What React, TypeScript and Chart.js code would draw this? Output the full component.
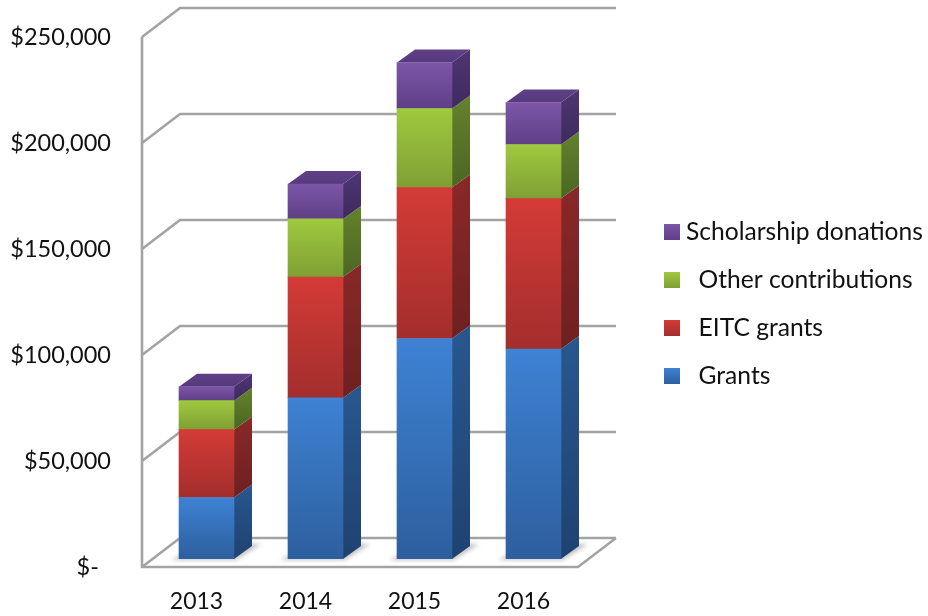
import React, { useEffect, useRef } from "react";
import { Chart, registerables } from "chart.js";

Chart.register(...registerables);

const years = ["2013", "2014", "2015", "2016"];
const grants = [29000, 76000, 104000, 99000];
const eitcGrants = [32000, 57000, 71200, 71000];
const otherContributions = [13700, 27400, 37300, 25500];
const scholarshipDonations = [6600, 16500, 21700, 19800];

const FONT = "Lato, Carlito, Calibri, sans-serif";
const TICK_SIZE = 23.5;
const LEGEND_SIZE = 24.6;
const TEXT = "#111111";
const GRID = "#a3a3a3";

// back wall offset, bar depth, bar placement on the floor
const WALL = { dx: 38, dy: 29 };
const DEPTH = { dx: 18, dy: 13 };
const BAR_SHIFT = { dx: 10, dy: 8 };

const palette = [
  { front: ["#3e82d4", "#2d5f9e"], side: ["#28578f", "#1f4270"] },
  { front: ["#d43b37", "#a32e2c"], side: ["#8a2828", "#6e2020"] },
  { front: ["#9fc93f", "#7f9f34"], side: ["#64822e", "#4b6622"] },
  { front: ["#7d56a8", "#5f3f85"], side: ["#4f3674", "#3e2a5e"] },
];
const topFace = ["#5f4088", "#553a7c"];

const seriesNames = ["Grants", "EITC grants", "Other contributions", "Scholarship donations"];
const seriesValues = [grants, eitcGrants, otherContributions, scholarshipDonations];
const legendText = ["  Grants", "  EITC grants", "  Other contributions", "Scholarship donations"];
const legendCentres = [376, 328, 280, 232];

function grad(ctx: CanvasRenderingContext2D, top: number, bottom: number, colors: string[]) {
  const g = ctx.createLinearGradient(0, top, 0, bottom);
  g.addColorStop(0, colors[0]);
  g.addColorStop(1, colors[1]);
  return g;
}

function poly(ctx: CanvasRenderingContext2D, pts: number[][]) {
  ctx.beginPath();
  pts.forEach((p, i) => (i ? ctx.lineTo(p[0], p[1]) : ctx.moveTo(p[0], p[1])));
  ctx.closePath();
}

const scene3d = {
  id: "scene3d",
  beforeDraw(chart: any) {
    const lg = chart.legend;
    const pad = lg.options.labels.padding;
    const bw = lg.options.labels.boxWidth;
    lg.left = 672 - bw / 2 - pad;
    lg.right = lg.left + 300;
    lg.top = 232 - LEGEND_SIZE / 2 - pad;
    lg.bottom = 600;

    const { ctx, chartArea, scales } = chart;
    const { left, right, bottom } = chartArea;
    ctx.save();
    ctx.strokeStyle = GRID;
    ctx.lineWidth = 2.6;
    ctx.lineJoin = "miter";
    scales.y.ticks.forEach((_: any, i: number) => {
      const y = scales.y.getPixelForTick(i);
      ctx.beginPath();
      ctx.moveTo(left, y);
      ctx.lineTo(left + WALL.dx, y - WALL.dy);
      ctx.lineTo(right + WALL.dx, y - WALL.dy);
      ctx.stroke();
    });
    ctx.beginPath();
    ctx.moveTo(left, chartArea.top);
    ctx.lineTo(left, bottom);
    ctx.lineTo(right, bottom);
    ctx.lineTo(right + WALL.dx, bottom - WALL.dy);
    ctx.stroke();
    ctx.restore();
  },
  beforeDatasetsDraw(chart: any) {
    const ctx = chart.ctx;
    ctx.save();
    ctx.translate(BAR_SHIFT.dx, -BAR_SHIFT.dy);
    const n = chart.data.datasets.length;
    // floor shadows
    chart.getDatasetMeta(0).data.forEach((bar: any) => {
      const l = bar.x - bar.width / 2;
      const r = bar.x + bar.width / 2;
      const b = bar.base;
      ctx.save();
      ctx.filter = "blur(2px)";
      ctx.fillStyle = "rgba(90,90,90,0.38)";
      poly(ctx, [[l - 8, b + 1], [r + 2, b + 1], [r + 27, b - 15], [r + 14, b - 15], [r, b - 3], [l, b - 3]]);
      ctx.fill();
      ctx.restore();
    });
    for (let d = 0; d < n; d++) {
      chart.getDatasetMeta(d).data.forEach((bar: any) => {
        const r = bar.x + bar.width / 2;
        const l = bar.x - bar.width / 2;
        const t = bar.y;
        const b = bar.base;
        ctx.fillStyle = grad(ctx, t - DEPTH.dy, b, palette[d].side);
        poly(ctx, [[r, t], [r + DEPTH.dx, t - DEPTH.dy], [r + DEPTH.dx, b - DEPTH.dy], [r, b]]);
        ctx.fill();
        if (d === n - 1) {
          ctx.fillStyle = grad(ctx, t - DEPTH.dy, t, topFace);
          poly(ctx, [[l, t], [l + DEPTH.dx, t - DEPTH.dy], [r + DEPTH.dx, t - DEPTH.dy], [r, t]]);
          ctx.fill();
        }
      });
    }
  },
  afterDatasetsDraw(chart: any) {
    chart.ctx.restore();
  },
};

export default function App() {
  const ref = useRef<HTMLCanvasElement>(null);
  useEffect(() => {
    if (!ref.current) return;
    const frontFill = (d: number) => (c: any) => {
      const chart = c.chart;
      const y = chart.scales.y;
      if (!y || c.dataIndex === undefined) return palette[d].front[0];
      let below = 0;
      for (let k = 0; k < d; k++) below += seriesValues[k][c.dataIndex];
      const top = y.getPixelForValue(below + seriesValues[d][c.dataIndex]);
      const bot = y.getPixelForValue(below);
      return grad(chart.ctx, top, bot, palette[d].front);
    };
    const chart = new Chart(ref.current, {
      type: "bar",
      data: {
        labels: years,
        datasets: seriesNames.map((label, d) => ({
          label,
          data: seriesValues[d],
          backgroundColor: frontFill(d),
          borderWidth: 0,
          barThickness: 55,
        })),
      },
      options: {
        responsive: false,
        animation: false,
        layout: { padding: { left: 0, top: 37, right: 340, bottom: 0 } },
        scales: {
          x: {
            stacked: true,
            grid: { display: false, drawTicks: false },
            border: { display: false },
            ticks: { color: TEXT, font: { family: FONT, size: 23 }, padding: 21, maxRotation: 0 },
            afterFit: (s: any) => { s.height = 49; s.paddingLeft = 0; s.paddingRight = 0; },
          },
          y: {
            stacked: true,
            min: 0,
            max: 250000,
            grid: { display: false, drawTicks: false },
            border: { display: false },
            ticks: {
              stepSize: 50000,
              color: TEXT,
              padding: 31,
              font: { family: FONT, size: TICK_SIZE },
              callback: (v: any) => (v === 0 ? "$-  " : "$" + Number(v).toLocaleString("en-US")),
            },
            afterFit: (s: any) => { s.width = 142; s.paddingTop = 0; s.paddingBottom = 0; },
          },
        },
        plugins: {
          tooltip: { enabled: false },
          title: { display: false },
          legend: {
            display: true,
            position: "right",
            align: "start",
            maxWidth: 10,
            labels: {
              color: TEXT,
              font: { family: FONT, size: LEGEND_SIZE },
              usePointStyle: true,
              pointStyle: "rect",
              boxWidth: 28 - LEGEND_SIZE,
              boxHeight: 16,
              padding: 48 - LEGEND_SIZE,
              generateLabels: (c: any) =>
                seriesNames
                  .map((_, d) => ({
                    text: legendText[d],
                    fillStyle: grad(c.ctx, legendCentres[d] - 8, legendCentres[d] + 8, palette[d].front),
                    strokeStyle: "rgba(0,0,0,0)",
                    lineWidth: 0,
                    pointStyle: "rect",
                    fontColor: TEXT,
                    datasetIndex: d,
                    hidden: false,
                  }))
                  .reverse(),
            },
          },
        },
      },
      plugins: [scene3d],
    } as any);
    return () => chart.destroy();
  }, []);
  return (
    <div style={{ position: "absolute", left: 0, top: 0, width: 928, height: 616, background: "#fff" }}>
      <canvas ref={ref} width={928} height={616} style={{ display: "block" }} />
    </div>
  );
}
